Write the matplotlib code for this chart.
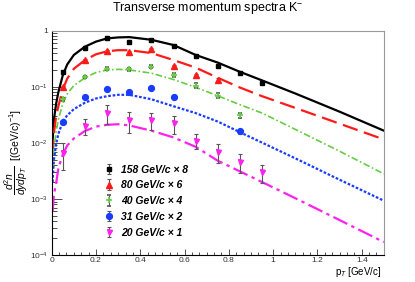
# transverse momentum spectra of K- with model curves, ROOT-like look

import matplotlib as mpl
mpl.use('Agg')
import matplotlib.pyplot as plt
import matplotlib.ticker as ticker
import numpy as np

plt.rcParams['font.family'] = ['Liberation Sans', 'DejaVu Sans']
plt.rcParams['mathtext.fontset'] = 'custom'
plt.rcParams['mathtext.rm'] = 'Liberation Sans'
plt.rcParams['mathtext.it'] = 'Liberation Sans:italic'
plt.rcParams['mathtext.bf'] = 'Liberation Sans:bold'

# measured points
pt_data = [0.05, 0.15, 0.25, 0.35, 0.45, 0.55, 0.65, 0.75, 0.85, 0.95]
y_158 = [0.18, 0.49, 0.73, 0.64, 0.69, 0.54, 0.355, 0.237, 0.175, 0.116]
e_158 = [0.006, 0.015, 0.02, 0.02, 0.02, 0.016, 0.012, 0.009, 0.007, 0.006]
pt_80 = [0.05, 0.15, 0.25, 0.35, 0.45, 0.55, 0.65, 0.75]
y_80 = [0.10, 0.30, 0.43, 0.42, 0.47, 0.237, 0.16, 0.133]
e_80 = [0.005, 0.012, 0.016, 0.016, 0.02, 0.012, 0.01, 0.01]
pt_40 = [0.05, 0.15, 0.25, 0.35, 0.45, 0.55, 0.65, 0.75, 0.85]
y_40 = [0.06, 0.15, 0.21, 0.204, 0.228, 0.162, 0.105, 0.069, 0.031]
e_40 = [0.004, 0.009, 0.012, 0.012, 0.014, 0.011, 0.01, 0.007, 0.003]
pt_31 = [0.05, 0.15, 0.25, 0.35, 0.45, 0.55, 0.85]
y_31 = [0.0237, 0.065, 0.09, 0.082, 0.094, 0.066, 0.0160]
e_31 = [0.0015, 0.004, 0.005, 0.005, 0.008, 0.004, 0.0015]
y_20 = [0.0066, 0.0199, 0.0343, 0.0254, 0.0254, 0.0222, 0.011, 0.0069, 0.0046, 0.0030]
e_20 = [0.0033, 0.0063, 0.0125, 0.0104, 0.0087, 0.008, 0.0033, 0.0025, 0.0017, 0.0011]

# model curves
pt_fit = [0.004, 0.01, 0.02, 0.03, 0.05, 0.07, 0.1, 0.15, 0.2, 0.25, 0.3, 0.35,
          0.45, 0.55, 0.65, 0.75, 0.85, 0.95, 1.1, 1.3, 1.5]
fit_158 = [0.011, 0.026, 0.05, 0.08, 0.16, 0.25, 0.37, 0.52, 0.64, 0.73, 0.76, 0.77,
           0.69, 0.556, 0.37, 0.27, 0.185, 0.13, 0.076, 0.036, 0.0165]
fit_80 = [0.006, 0.015, 0.03, 0.045, 0.09, 0.14, 0.21, 0.30, 0.38, 0.43, 0.45, 0.45,
          0.40, 0.30, 0.22, 0.145, 0.097, 0.068, 0.042, 0.022, 0.0115]
fit_40 = [0.0035, 0.008, 0.016, 0.026, 0.05, 0.075, 0.105, 0.145, 0.18, 0.20, 0.205, 0.20,
          0.175, 0.135, 0.098, 0.069, 0.048, 0.034, 0.0174, 0.0071, 0.0028]
fit_31 = [0.002, 0.005, 0.0095, 0.0145, 0.024, 0.031, 0.040, 0.052, 0.062, 0.068, 0.072, 0.072,
          0.060, 0.045, 0.034, 0.024, 0.0155, 0.0101, 0.0053, 0.0022, 0.00093]
fit_20 = [0.0006, 0.0012, 0.0019, 0.0035, 0.0062, 0.009, 0.012, 0.0163, 0.0195, 0.021, 0.0215, 0.0205,
          0.0165, 0.0125, 0.0085, 0.0048, 0.0031, 0.0020, 0.00103, 0.00042, 0.00017]

labels = ['158 GeV/c \u00d7 8', '80 GeV/c \u00d7 6', '40 GeV/c \u00d7 4',
          '31 GeV/c \u00d7 2', '20 GeV/c \u00d7 1']

fig = plt.figure(figsize=(4.15, 2.82), dpi=100)
ax = fig.add_axes([0.1246, 0.0957, 0.8004, 0.7953])

# curves
ax.plot(pt_fit, fit_158, color='black', lw=1.6, ls='-')
ax.plot(pt_fit, fit_80, color='#ff1a1a', lw=1.6, ls=(0, (7, 3)))
ax.plot(pt_fit, fit_40, color='#66cc44', lw=1.2, ls=(0, (4, 1.5, 1, 1.5)))
ax.plot(pt_fit, fit_31, color='#1a3cff', lw=1.6, ls=(0, (1.2, 0.8)))
ax.plot(pt_fit, fit_20, color='#ff22ee', lw=1.6, ls=(0, (7, 2, 1.5, 2)))

ecol = '#555555'
kw = dict(ls='none', ecolor=ecol, elinewidth=0.8, capsize=1.5, capthick=0.8)
h1 = ax.errorbar(pt_data, y_158, yerr=e_158, marker='s', ms=3.4, color='black', **kw)
h2 = ax.errorbar(pt_80, y_80, yerr=e_80, marker='^', ms=4.0, color='#ff1a1a', **kw)
h3 = ax.errorbar(pt_40, y_40, yerr=e_40, marker='+', ms=4.0, mew=1.2, color='#66cc44', **kw)
h4 = ax.errorbar(pt_31, y_31, yerr=e_31, marker='o', ms=4.2, color='#1a3cff', **kw)
h5 = ax.errorbar(pt_data, y_20, yerr=e_20, marker='v', ms=3.6, color='#ff22ee', **kw)

ax.set_yscale('log')
ax.set_xlim(0, 1.5)
ax.set_ylim(1e-4, 1)

ax.xaxis.set_major_locator(ticker.MultipleLocator(0.2))
ax.xaxis.set_minor_locator(ticker.MultipleLocator(0.2 / 6))
ax.xaxis.set_major_formatter(ticker.FuncFormatter(lambda v, p: '%g' % round(v, 2)))


def yfmt(v, p):
  e = int(round(np.log10(v)))
  if e == 0:
    return '1'
  return r'$10^{%d}$' % e


ax.yaxis.set_major_formatter(ticker.FuncFormatter(yfmt))
ax.yaxis.set_minor_locator(ticker.LogLocator(base=10, subs=np.arange(2, 10)))
ax.yaxis.set_minor_formatter(ticker.NullFormatter())

ax.tick_params(which='both', direction='in', top=False, right=False, labelsize=6, colors='#333333')
ax.tick_params(axis='y', which='major', length=7, width=0.6, pad=2.5)
ax.tick_params(axis='y', which='minor', length=3.5, width=0.6)
ax.tick_params(axis='x', which='major', length=4.5, width=0.6, pad=1.5)
ax.tick_params(axis='x', which='minor', length=2.3, width=0.6)
for s in ['top', 'right']:
  ax.spines[s].set_color('#999999')
for s in ax.spines.values():
  s.set_linewidth(0.8)

leg = ax.legend([h1, h2, h3, h4, h5], labels, loc='upper left',
                bbox_to_anchor=(0.13, 0.445), frameon=False, handlelength=1.0,
                handletextpad=0.6, labelspacing=0.55,
                prop={'weight': 'bold', 'style': 'italic', 'size': 7.5})

fig.text(0.5, 0.97, r'Transverse momentum spectra K$^{-}$', ha='center', va='center', fontsize=9)
fig.text(0.92, 0.035, r'p$_{T}$ [GeV/c]', ha='right', va='center', fontsize=7)
fig.text(0.04, 0.461, r'$\dfrac{d^{2}n}{dydp_{T}}$  [(GeV/c)$^{-1}$]', rotation=90,
         ha='center', va='center', fontsize=7.5)

plt.savefig('out.png', dpi=100)
plt.close()
